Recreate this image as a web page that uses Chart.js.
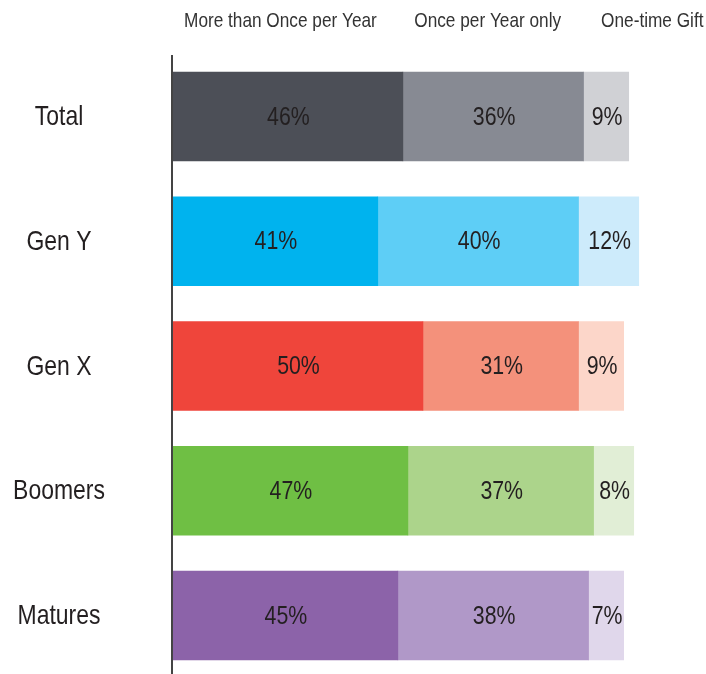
<!DOCTYPE html>
<html>
<head>
<meta charset="utf-8">
<script src="https://cdn.jsdelivr.net/npm/chart.js@4"></script>
<style>
  html, body { margin: 0; padding: 0; background: #fff; overflow: hidden; }
  #wrap { width: 706px; height: 674px; }
</style>
</head>
<body>
<div id="wrap"><canvas id="myChart" width="706" height="674"></canvas></div>
<script>
const categories = ['Total', 'Gen Y', 'Gen X', 'Boomers', 'Matures'];
const seriesNames = ['More than Once per Year', 'Once per Year only', 'One-time Gift'];
const moreThanOnce = [46, 41, 50, 47, 45];
const oncePerYear = [36, 40, 31, 37, 38];
const oneTimeGift = [9, 12, 9, 8, 7];

// one shade per category, dark -> light
const darkColors = ['#4c4f57', '#00b3ee', '#ef453b', '#6fbf44', '#8c63a9'];
const midColors = ['#878a93', '#5ecef6', '#f4917b', '#acd48b', '#b098c8'];
const lightColors = ['#d0d1d5', '#cdebfb', '#fcd6c9', '#e1eed6', '#e0d7eb'];

// header positions, in % units of the x scale
const headerCenters = [21.6, 62.9, 95.7];

const FONT = "'Liberation Sans', Arial, sans-serif";
const SQUEEZE = 0.82; // no condensed face installed, so squeeze horizontally

function condensedText(ctx, text, x, y, size, color) {
    ctx.save();
    ctx.font = size + 'px ' + FONT;
    ctx.fillStyle = color;
    ctx.textAlign = 'center';
    ctx.textBaseline = 'middle';
    ctx.translate(x, y);
    ctx.scale(SQUEEZE, 1);
    ctx.fillText(text, 0, 0);
    ctx.restore();
}

const overlay = {
    id: 'overlay',
    afterDatasetsDraw(chart) {
        const ctx = chart.ctx;
        const x = chart.scales.x;
        const y = chart.scales.y;
        const area = chart.chartArea;

        // value labels
        chart.data.datasets.forEach((ds, di) => {
            chart.getDatasetMeta(di).data.forEach((bar, i) => {
                const cx = (bar.x + bar.base) / 2 + 1;
                condensedText(ctx, ds.data[i] + '%', cx, bar.y + 1, 26, '#231f20');
            });
        });

        // category labels
        categories.forEach((c, i) => {
            condensedText(ctx, c, 59, y.getPixelForValue(i) + 1, 28, '#231f20');
        });

        // headers
        seriesNames.forEach((name, i) => {
            condensedText(ctx, name, x.getPixelForValue(headerCenters[i]), 21, 21, '#333333');
        });

        // axis line
        ctx.save();
        ctx.strokeStyle = '#444';
        ctx.lineWidth = 2;
        ctx.beginPath();
        ctx.moveTo(area.left, 55);
        ctx.lineTo(area.left, chart.height);
        ctx.stroke();
        ctx.restore();
    }
};

let myChart = document.getElementById('myChart').getContext('2d');

let donorChart = new Chart(myChart, {
    type: 'bar',
    data: {
        labels: categories,
        datasets: [
            { label: seriesNames[0], data: moreThanOnce, backgroundColor: darkColors },
            { label: seriesNames[1], data: oncePerYear, backgroundColor: midColors },
            { label: seriesNames[2], data: oneTimeGift, backgroundColor: lightColors }
        ]
    },
    options: {
        indexAxis: 'y',
        responsive: false,
        animation: false,
        layout: { padding: { top: 116.5, bottom: 58.5, left: 0, right: 0 } },
        datasets: { bar: { barThickness: 89, clip: false, borderWidth: 0 } },
        scales: {
            x: {
                stacked: true,
                display: false,
                min: 0,
                max: 106.4
            },
            y: {
                stacked: true,
                offset: false,
                border: { display: false },
                grid: { display: false, drawTicks: false },
                ticks: { display: false },
                afterFit(scale) { scale.width = 172; }
            }
        },
        plugins: {
            legend: { display: false },
            tooltip: { enabled: false }
        }
    },
    plugins: [overlay]
});
</script>
</body>
</html>
